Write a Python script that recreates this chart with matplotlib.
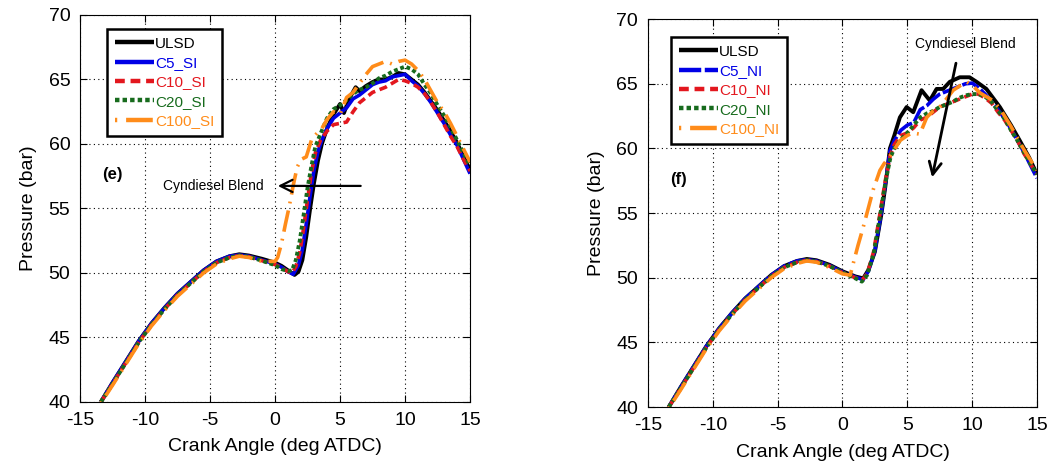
import numpy as np
import matplotlib.pyplot as plt

plt.rcParams['font.family'] = ['Liberation Sans', 'DejaVu Sans']
plt.rcParams['axes.unicode_minus'] = False

#%% Data (crank angle in deg ATDC, pressure in bar)

# shared motoring part of the curves, -13.5 .. 0 deg
x_low = [-13.4, -12.5, -11.5, -10.5, -9.5, -8.5, -7.5, -6.5, -5.5, -4.5, -3.5, -2.75, -2.0, -1.0, 0.0]

# (e) SI panel
ulsd_si_x = x_low + [0.5, 1.0, 1.5, 1.8, 2.1, 2.4, 2.7, 3.0, 3.3, 3.6, 4.0, 4.5, 5.0, 5.3, 5.7, 6.2, 6.5, 7.0, 7.5,
                     8.0, 8.5, 9.0, 9.5, 10.0, 10.5, 11.0, 11.5, 12.0, 12.5, 13.0, 13.5, 14.0, 14.5, 15.0]
ulsd_si_y = [40.0, 41.5, 43.1, 44.7, 46.1, 47.3, 48.4, 49.3, 50.2, 50.9, 51.3, 51.45, 51.35, 51.1, 50.8,
             50.55, 50.2, 49.85, 50.1, 51.0, 52.8, 55.0, 57.0, 58.7, 60.0, 61.2, 62.3, 63.1, 62.4, 63.5, 64.4, 64.1,
             64.5, 64.8, 65.0, 65.0, 65.2, 65.5, 65.4, 65.0, 64.6, 64.0, 63.3, 62.6, 61.8, 61.0, 60.1, 59.0, 58.0]

c5_si_x = x_low + [0.5, 1.0, 1.4, 1.8, 2.1, 2.4, 2.7, 3.0, 3.3, 3.6, 4.0, 4.5, 5.0, 5.5, 6.0, 6.5, 7.0, 7.5, 8.0,
                   8.5, 9.0, 9.5, 10.0, 10.5, 11.0, 11.5, 12.0, 12.5, 13.0, 13.5, 14.0, 14.5, 15.0]
c5_si_y = [40.0, 41.5, 43.1, 44.7, 46.1, 47.3, 48.4, 49.3, 50.2, 50.9, 51.3, 51.4, 51.3, 51.0, 50.7,
           50.45, 50.1, 49.9, 50.6, 51.8, 53.8, 56.0, 58.0, 59.4, 60.3, 61.2, 62.0, 62.4, 62.8, 63.5, 63.8, 64.2,
           64.6, 64.8, 64.9, 65.2, 65.3, 65.4, 64.9, 64.5, 63.9, 63.2, 62.4, 61.6, 60.7, 59.9, 58.8, 57.7]

c10_si_x = x_low + [0.5, 1.0, 1.3, 1.6, 1.9, 2.2, 2.5, 2.8, 3.1, 3.5, 4.0, 4.5, 5.0, 5.5, 6.0, 6.5, 7.0, 7.5, 8.0,
                    8.5, 9.0, 9.5, 10.0, 10.5, 11.0, 11.5, 12.0, 12.5, 13.0, 13.5, 14.0, 14.5, 15.0]
c10_si_y = [40.0, 41.4, 43.0, 44.6, 46.0, 47.2, 48.3, 49.2, 50.1, 50.8, 51.2, 51.35, 51.25, 50.95, 50.65,
            50.4, 50.1, 50.0, 50.5, 51.6, 53.5, 55.7, 57.8, 59.3, 60.3, 61.0, 61.5, 61.6, 61.7, 62.5, 63.2, 63.6,
            64.0, 64.2, 64.4, 64.7, 65.0, 64.9, 64.7, 64.4, 63.9, 63.2, 62.4, 61.5, 60.6, 59.8, 58.8, 57.9]

c20_si_x = x_low + [0.5, 1.0, 1.3, 1.6, 1.9, 2.2, 2.5, 2.8, 3.1, 3.5, 4.0, 4.5, 5.0, 5.5, 6.0, 6.5, 7.0, 7.5, 8.0,
                    8.5, 9.0, 9.5, 10.0, 10.5, 11.0, 11.5, 12.0, 12.5, 13.0, 13.5, 14.0, 14.5, 15.0]
c20_si_y = [40.0, 41.4, 43.0, 44.6, 46.0, 47.2, 48.3, 49.2, 50.1, 50.8, 51.2, 51.35, 51.25, 50.95, 50.6,
            50.3, 50.15, 50.2, 51.0, 52.5, 54.5, 56.6, 58.3, 59.8, 60.8, 62.0, 62.7, 63.0, 63.4, 63.9, 64.2, 64.4,
            64.7, 65.1, 65.3, 65.6, 65.8, 66.0, 65.8, 65.4, 64.6, 63.9, 63.0, 62.2, 61.3, 60.3, 59.3, 58.3]

c100_si_x = x_low + [0.2, 0.5, 0.8, 1.1, 1.4, 1.7, 2.0, 2.4, 2.8, 3.2, 3.6, 4.0, 4.5, 5.0, 5.5, 6.0, 6.5, 7.0, 7.5,
                     8.0, 8.5, 9.0, 9.5, 10.0, 10.5, 11.0, 11.5, 12.0, 12.5, 13.0, 13.5, 14.0, 14.5, 15.0]
c100_si_y = [39.9, 41.3, 42.9, 44.5, 45.9, 47.1, 48.2, 49.1, 50.0, 50.7, 51.1, 51.3, 51.2, 50.9, 50.9,
             51.2, 52.3, 53.8, 55.2, 56.8, 58.2, 58.8, 59.0, 60.3, 60.8, 61.2, 61.9, 62.5, 62.3, 63.6, 64.0, 64.7,
             65.4, 66.0, 66.2, 66.4, 66.2, 66.4, 66.5, 66.2, 65.7, 65.0, 64.1, 63.2, 62.5, 61.6, 60.6, 59.6, 58.6]

# (f) NI panel
ulsd_ni_x = x_low + [1.0, 1.6, 2.0, 2.5, 3.0, 3.3, 3.66, 4.0, 4.43, 4.95, 5.46, 6.1, 6.74, 7.26, 7.77, 8.28, 9.05,
                     9.8, 10.34, 11.1, 12.14, 13.0, 13.68, 14.4, 15.0]
ulsd_ni_y = [40.0, 41.5, 43.1, 44.7, 46.1, 47.3, 48.4, 49.3, 50.2, 50.9, 51.3, 51.45, 51.35, 51.0, 50.5,
             50.1, 49.95, 50.6, 52.0, 54.9, 57.0, 60.0, 61.0, 62.4, 63.2, 62.8, 64.5, 63.7, 64.6, 64.6, 65.15, 65.5,
             65.5, 65.15, 64.6, 63.2, 61.8, 60.6, 59.3, 58.0]

c5_ni_x = x_low + [1.0, 1.6, 2.0, 2.5, 3.0, 3.3, 3.66, 4.0, 4.5, 5.0, 5.5, 6.0, 6.5, 7.0, 7.5, 8.0, 8.5, 9.0, 9.5,
                   10.0, 10.5, 11.0, 11.5, 12.0, 12.5, 13.0, 13.5, 14.0, 14.5, 15.0]
c5_ni_y = [40.0, 41.5, 43.1, 44.7, 46.1, 47.3, 48.4, 49.3, 50.2, 50.9, 51.3, 51.4, 51.3, 50.95, 50.45,
           50.05, 49.85, 50.5, 52.1, 55.0, 57.2, 59.8, 60.6, 61.4, 61.8, 62.0, 63.0, 63.3, 63.8, 64.2, 64.4, 64.6,
           64.8, 65.0, 65.05, 64.7, 64.2, 63.6, 63.0, 62.3, 61.5, 60.6, 59.7, 58.7, 57.7]

c10_ni_x = x_low + [1.0, 1.5, 1.9, 2.4, 2.9, 3.3, 3.7, 4.0, 4.5, 5.0, 5.5, 6.0, 6.5, 7.0, 7.5, 8.0, 8.5, 9.0, 9.5,
                    10.0, 10.5, 11.0, 11.5, 12.0, 12.5, 13.0, 13.5, 14.0, 14.5, 15.0]
c10_ni_y = [40.0, 41.4, 43.0, 44.6, 46.0, 47.2, 48.3, 49.2, 50.1, 50.8, 51.2, 51.35, 51.25, 50.9, 50.4,
            50.0, 49.8, 50.3, 52.0, 55.0, 57.5, 59.5, 60.3, 61.0, 61.2, 61.6, 62.2, 62.4, 62.8, 63.2, 63.4, 63.6,
            63.8, 64.0, 64.2, 64.2, 63.9, 63.5, 62.8, 62.2, 61.4, 60.6, 59.6, 58.8, 58.0]

c20_ni_x = x_low + [1.0, 1.5, 1.9, 2.4, 2.9, 3.3, 3.7, 4.0, 4.5, 5.0, 5.5, 6.0, 6.5, 7.0, 7.5, 8.0, 8.5, 9.0, 9.5,
                    10.0, 10.5, 11.0, 11.5, 12.0, 12.5, 13.0, 13.5, 14.0, 14.5, 15.0]
c20_ni_y = [40.0, 41.4, 43.0, 44.6, 46.0, 47.2, 48.3, 49.2, 50.1, 50.8, 51.2, 51.35, 51.25, 50.9, 50.4,
            49.95, 49.7, 50.2, 51.8, 54.8, 57.3, 59.3, 60.0, 60.7, 61.2, 61.8, 62.4, 62.7, 62.9, 63.2, 63.4, 63.6,
            63.9, 64.1, 64.2, 64.2, 64.0, 63.6, 62.9, 62.3, 61.4, 60.6, 59.7, 58.8, 58.0]

c100_ni_x = x_low + [0.6, 0.83, 1.2, 1.6, 2.0, 2.37, 2.89, 3.2, 3.66, 4.0, 4.43, 5.0, 5.4, 5.97, 6.5, 7.0, 7.5, 8.0,
                     8.54, 9.0, 9.57, 10.1, 10.6, 11.1, 11.6, 12.2, 13.0, 13.5, 14.0, 14.5, 15.0]
c100_ni_y = [39.9, 41.3, 42.9, 44.5, 45.9, 47.1, 48.2, 49.1, 50.0, 50.7, 51.1, 51.3, 51.2, 50.8, 50.3,
             50.2, 51.1, 52.5, 53.9, 55.4, 56.8, 58.3, 58.8, 59.4, 59.9, 60.6, 61.0, 61.2, 61.1, 62.4, 62.9, 63.2,
             63.8, 64.5, 64.8, 65.15, 64.8, 64.3, 64.0, 63.7, 63.0, 61.7, 60.8, 59.9, 59.1, 58.3]

# colours, one per fuel
col_ulsd = 'black'
col_c5 = '#0000e6'
col_c10 = '#e3171e'
col_c20 = '#176b1d'
col_c100 = '#ff8c1a'

#%% Figure

fig = plt.figure(figsize=(10.49, 4.61), dpi=100)
ax_e = fig.add_axes([0.0763, 0.128, 0.3718, 0.8395])
ax_f = fig.add_axes([0.6177, 0.117, 0.3708, 0.8416])


def draw_panel(ax, series, tag, leg_anchor):
    for x, y, lab, col, dash, lw in series:
        line, = ax.plot(x, y, color=col, lw=lw, label=lab, solid_capstyle='butt')
        if dash is not None:
            line.set_dashes(dash)
    ax.set_xlim(-15, 15)
    ax.set_ylim(40, 70)
    ax.set_xticks(np.arange(-15, 16, 5))
    ax.set_yticks(np.arange(40, 71, 5))
    ax.grid(True, color='black', ls=(0, (1, 3)), lw=0.8)
    ax.tick_params(direction='in', top=True, right=True, labelsize=14, length=5, width=0.8, pad=7)
    for sp in ax.spines.values():
        sp.set_linewidth(0.8)
    ax.set_xlabel('Crank Angle (deg ATDC)', fontsize=14, labelpad=7)
    ax.set_ylabel('Pressure (bar)', fontsize=14, labelpad=8)
    ax.text(-13.3, 57.6, tag, fontsize=12, fontweight='bold', va='center', ha='left')
    leg = ax.legend(loc='upper left', bbox_to_anchor=leg_anchor, borderaxespad=0, fontsize=11,
                    handlelength=2.6, handletextpad=0.05, labelspacing=0.35, borderpad=0.5,
                    fancybox=False, framealpha=1, edgecolor='black', labelcolor='linecolor')
    leg.get_frame().set_linewidth(1.8)
    for h in leg.get_lines():
        h.set_linewidth(3.2)


draw_panel(ax_e, [
    (ulsd_si_x, ulsd_si_y, 'ULSD', col_ulsd, None, 2.8),
    (c5_si_x, c5_si_y, 'C5_SI', col_c5, None, 2.6),
    (c10_si_x, c10_si_y, 'C10_SI', col_c10, (2.2, 1.3), 2.6),
    (c20_si_x, c20_si_y, 'C20_SI', col_c20, (1.0, 0.7), 2.8),
    (c100_si_x, c100_si_y, 'C100_SI', col_c100, (0.5, 2.0, 6.0, 2.0), 2.6),
], '(e)', (0.069, 0.964))

draw_panel(ax_f, [
    (ulsd_ni_x, ulsd_ni_y, 'ULSD', col_ulsd, None, 2.8),
    (c5_ni_x, c5_ni_y, 'C5_NI', col_c5, (5.0, 0.8), 2.6),
    (c10_ni_x, c10_ni_y, 'C10_NI', col_c10, (2.2, 1.3), 2.6),
    (c20_ni_x, c20_ni_y, 'C20_NI', col_c20, (1.0, 0.7), 2.8),
    (c100_ni_x, c100_ni_y, 'C100_NI', col_c100, (0.5, 2.0, 6.0, 2.0), 2.6),
], '(f)', (0.059, 0.954))

# arrows pointing in the direction of increasing Cyndiesel content
ax_e.annotate('', xy=(0.0, 56.75), xytext=(6.8, 56.75),
              arrowprops=dict(arrowstyle='->', color='black', lw=1.6, mutation_scale=22))
ax_e.text(-0.9, 56.75, 'Cyndiesel Blend', fontsize=10, ha='right', va='center')

ax_f.annotate('', xy=(6.87, 57.55), xytext=(8.8, 66.8),
              arrowprops=dict(arrowstyle='->', color='black', lw=2.0, mutation_scale=22))
ax_f.text(9.5, 68.1, 'Cyndiesel Blend', fontsize=10, ha='center', va='center')

plt.savefig('out.png', dpi=100)
